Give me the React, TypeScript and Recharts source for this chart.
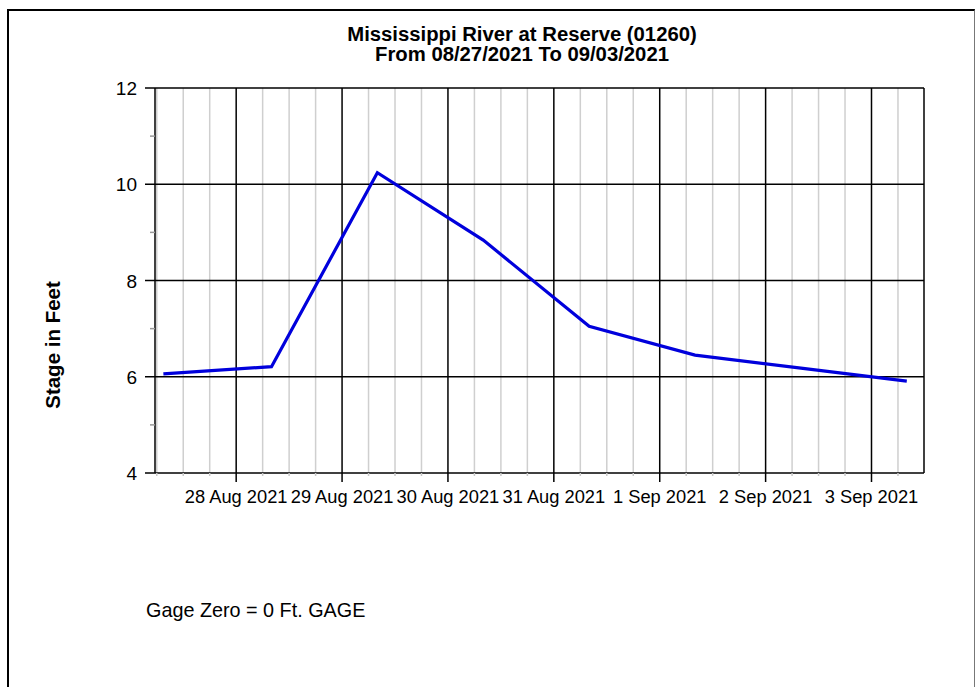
import { LineChart, Line, XAxis, YAxis, ReferenceLine } from 'recharts'

// hours since 27 Aug 2021 00:00
const obsHours = [7.5, 32, 56, 80, 104, 128, 152, 176]
const stageFt = [6.06, 6.21, 10.24, 8.84, 7.05, 6.45, 6.18, 5.91]

const dayHours = [24, 48, 72, 96, 120, 144, 168]
const dayLabels = ['28 Aug 2021', '29 Aug 2021', '30 Aug 2021', '31 Aug 2021', '1 Sep 2021', '2 Sep 2021', '3 Sep 2021']
const sixHourTicks = [6, 12, 18, 24, 30, 36, 42, 48, 54, 60, 66, 72, 78, 84, 90, 96, 102, 108, 114, 120, 126, 132, 138, 144, 150, 156, 162, 168, 174]
const minorHours = sixHourTicks.filter(h => h % 24 !== 0)

const stageTicks = [4, 5, 6, 7, 8, 9, 10, 11, 12]
const stageGrid = [6, 8, 10, 12]

const xDomain: [number, number] = [5.6, 179.9]

const FONT = '"Liberation Sans", Arial, sans-serif'

const chartData = obsHours.map((h, i) => ({ hour: h, stage: stageFt[i] }))

function XTick(props: any) {
  const { x, y, payload } = props
  const axisY = y - 9
  const idx = dayHours.indexOf(payload.value)
  if (idx < 0) {
    return <line x1={x} x2={x} y1={axisY} y2={axisY + 3} stroke="#c8c8c8" strokeWidth={1.5} />
  }
  return (
    <g>
      <line x1={x} x2={x} y1={axisY} y2={axisY + 9} stroke="#000" strokeWidth={1.5} />
      <text x={x} y={axisY + 30} textAnchor="middle" fontSize={18.3} fontFamily={FONT} fill="#000">
        {dayLabels[idx]}
      </text>
    </g>
  )
}

function YTick(props: any) {
  const { x, y, payload } = props
  const axisX = x + 18
  if (payload.value % 2 !== 0) {
    return <line x1={axisX - 5} x2={axisX} y1={y} y2={y} stroke="#999" strokeWidth={1.5} />
  }
  return (
    <g>
      <line x1={axisX - 10} x2={axisX} y1={y} y2={y} stroke="#000" strokeWidth={1.5} />
      <text x={x} y={y + 7} textAnchor="end" fontSize={19} fontFamily={FONT} fill="#000">
        {payload.value}
      </text>
    </g>
  )
}

export default function App() {
  return (
    <div style={{ position: 'absolute', left: 0, top: 0, width: 976, height: 687, background: '#fff', overflow: 'hidden' }}>
      {/* frame */}
      <div style={{
        position: 'absolute', left: 7, top: 9, width: 968, height: 700, boxSizing: 'border-box',
        borderTop: '2px solid #000', borderLeft: '2px solid #000', borderRight: '1px solid #777'
      }} />
      <div style={{ position: 'absolute', left: 0, top: 0 }}>
        <LineChart width={976} height={687} data={chartData} margin={{ top: 88, right: 52, left: 95, bottom: 184 }}>
          <XAxis
            dataKey="hour"
            type="number"
            domain={xDomain}
            allowDataOverflow
            ticks={sixHourTicks}
            interval={0}
            tick={<XTick />}
            tickLine={false}
            tickSize={9}
            tickMargin={0}
            height={30}
            axisLine={{ stroke: '#000', strokeWidth: 1.5 }}
          />
          <YAxis
            type="number"
            domain={[4, 12]}
            ticks={stageTicks}
            interval={0}
            tick={<YTick />}
            tickLine={false}
            tickSize={10}
            tickMargin={8}
            width={60}
            axisLine={{ stroke: '#000', strokeWidth: 1.5 }}
          />
          {minorHours.map(h => (
            <ReferenceLine key={`m${h}`} x={h} stroke="#cfcfcf" strokeWidth={1.5} />
          ))}
          {dayHours.map(h => (
            <ReferenceLine key={`d${h}`} x={h} stroke="#000" strokeWidth={1.5} />
          ))}
          <ReferenceLine x={xDomain[1]} stroke="#000" strokeWidth={1.5} />
          {stageGrid.map(v => (
            <ReferenceLine key={`s${v}`} y={v} stroke="#000" strokeWidth={1.5} />
          ))}
          <Line
            type="linear"
            dataKey="stage"
            stroke="#0000dc"
            strokeWidth={3.2}
            dot={false}
            isAnimationActive={false}
          />
        </LineChart>
      </div>
      <svg width={976} height={687} style={{ position: 'absolute', left: 0, top: 0, pointerEvents: 'none' }}>
        <text x={522} y={41} textAnchor="middle" fontSize={20.3} fontWeight="bold" fontFamily={FONT}>
          Mississippi River at Reserve (01260)
        </text>
        <text x={522} y={61} textAnchor="middle" fontSize={20.3} fontWeight="bold" fontFamily={FONT}>
          From 08/27/2021 To 09/03/2021
        </text>
        <text
          x={0}
          y={0}
          transform="translate(60, 345) rotate(-90)"
          textAnchor="middle"
          fontSize={20.5}
          fontWeight="bold"
          fontFamily={FONT}
        >
          Stage in Feet
        </text>
        <text x={146} y={617} fontSize={19.8} fontFamily={FONT}>
          Gage Zero = 0 Ft. GAGE
        </text>
      </svg>
    </div>
  )
}
